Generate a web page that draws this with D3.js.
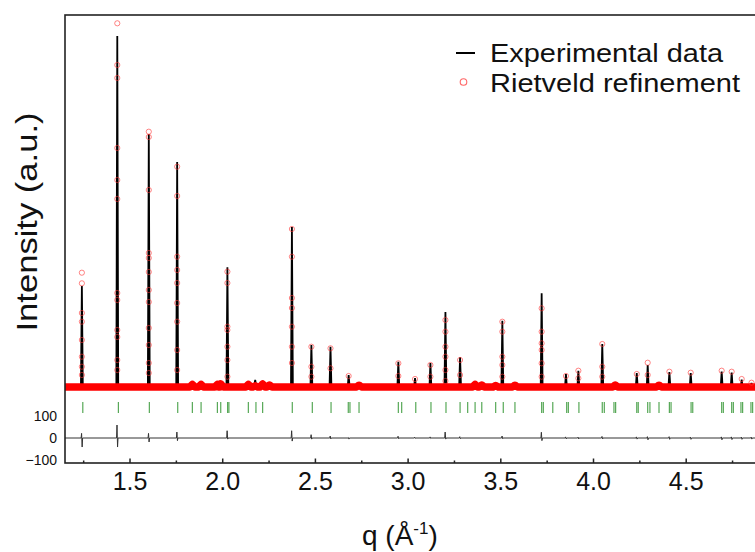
<!DOCTYPE html>
<html>
<head>
<meta charset="utf-8">
<script src="https://cdn.jsdelivr.net/npm/d3@7"></script>
<style>
  body { margin: 0; background: #fff; }
  svg { display: block; font-family: Arial, "Liberation Sans", sans-serif; }
</style>
</head>
<body>
<div id="chart"></div>
<script>

// reflections, q in 1/A, intensities in a.u.
var peakQ   = [1.243, 1.434, 1.604, 1.757, 2.028, 2.376, 2.481, 2.584, 2.682, 2.950,
               3.040, 3.123, 3.204, 3.283, 3.511, 3.723, 3.854, 3.921, 4.050, 4.236,
               4.295, 4.412, 4.527, 4.694, 4.748, 4.802, 4.855];
var obsTop  = [1190, 3690, 2710, 2430, 1377, 1780, 600, 583, 300, 433,
               270, 420, 930, 477, 843, 1117, 310, 343, 610, 320,
               400, 330, 320, 335, 325, 255, 220];
var calcTop = [1323, 3817, 2733, 2383, 1333, 1760, 583, 567, 290, 417,
               260, 400, 850, 450, 833, 967, 290, 343, 610, 310,
               423, 333, 323, 343, 333, 260, 223];
// calculated points on the flanks of each peak
var calcSide = [
  [1217, 920, 833, 650, 483, 383, 300],
  [3400, 3270, 2570, 2250, 2060, 1120, 1050, 750, 680, 450, 350],
  [2680, 2150, 1520, 1470, 1330, 1150, 1030, 770, 600, 420, 320],
  [2090, 1483, 1350, 1220, 1020, 833, 550, 350],
  [1220, 783, 750, 583, 450, 283],
  [1483, 1070, 970, 783, 583, 420],
  [383, 283], [367], [], [290],
  [], [283], [733, 583, 483, 350, 240], [300], [733, 483, 400, 283],
  [733, 617, 550, 417, 283], [], [267], [383, 283], [],
  [300], [], [], [], [], [], []
];
// difference curve (obs - calc)
var resUp   = [21, 59, 21, 27, 33, 33, 15, 9, 2, 8, 4, 5, 27, 6, 9, 26, 5, 4, 7, 5, 6, 6, 4, 5, 5, 4, 4];
var resDown = [41, 41, 18, 12, 5, 14, 5, 4, 5, 3, 2, 2, 5, 3, 3, 12, 4, 4, 4, 5, 8, 6, 6, 8, 7, 6, 5];

// weak humps in the background
var bumpQ    = [1.839, 1.886, 1.974, 1.992, 2.141, 2.178, 2.218, 2.255, 2.738, 3.364, 3.400, 3.475, 3.579, 4.120, 4.356];
var bumpObs  = [205, 205, 205, 212, 205, 252, 210, 200, 198, 205, 200, 195, 198, 200, 198];
var bumpCalc = [205, 205, 205, 212, 205, 192, 210, 200, 198, 205, 200, 195, 198, 200, 198];
var background = 180;

// Bragg positions
var braggQ = [1.248, 1.440, 1.607, 1.760, 1.839, 1.886, 1.974, 1.992, 2.029, 2.036,
              2.141, 2.182, 2.218, 2.378, 2.486, 2.587, 2.680, 2.689, 2.738,
              2.950, 2.968, 3.044, 3.126, 3.207, 3.283, 3.324, 3.364, 3.400, 3.475,
              3.516, 3.579, 3.723, 3.732, 3.783, 3.858, 3.867, 3.924, 4.050, 4.061,
              4.113, 4.122, 4.236, 4.244, 4.295, 4.307, 4.356, 4.412, 4.421, 4.529,
              4.538, 4.694, 4.703, 4.748, 4.757, 4.798, 4.807, 4.852, 4.861];

var xMajor = [1.5, 2.0, 2.5, 3.0, 3.5, 4.0, 4.5];
var xMinor = [1.25, 1.75, 2.25, 2.75, 3.25, 3.75, 4.25, 4.75];
var resTicks = [100, 0, -100];

var width = 755, height = 552;
var svg = d3.select("#chart").append("svg")
  .attr("width", width).attr("height", height);

var x = d3.scaleLinear().domain([1.152, 5.0]).range([65, 778.4]);
var y = d3.scaleLinear().domain([0, 3900]).range([405, 15]);
var yRes = d3.scaleLinear().domain([-100, 100]).range([460, 416]);

var line = d3.line().x(function (d) { return x(d[0]); }).y(function (d) { return y(d[1]); });
var resLine = d3.line().x(function (d) { return x(d[0]); }).y(function (d) { return yRes(d[1]); });

// observed profile: spikes on the background
var obs = [[1.152, background], [5.0, background]];
peakQ.forEach(function (q, i) {
  obs.push([q - 0.005, background], [q, obsTop[i]], [q + 0.005, background]);
});
bumpQ.forEach(function (q, i) {
  obs.push([q - 0.006, background], [q, bumpObs[i]], [q + 0.006, background]);
});
obs.sort(function (a, b) { return a[0] - b[0]; });

// calculated background band
var band = [[1.152, background], [5.0, background]];
bumpQ.forEach(function (q, i) {
  band.push([q - 0.014, background], [q, bumpCalc[i]], [q + 0.014, background]);
});
band.sort(function (a, b) { return a[0] - b[0]; });

var calcPts = [];
peakQ.forEach(function (q, i) {
  calcPts.push([q, calcTop[i]]);
  calcSide[i].forEach(function (v) { calcPts.push([q, v]); });
});

var res = [[1.152, 0], [5.0, 0]];
peakQ.forEach(function (q, i) {
  res.push([q - 0.004, 0], [q - 0.0015, resUp[i]], [q + 0.0015, -resDown[i]], [q + 0.004, 0]);
});
res.sort(function (a, b) { return a[0] - b[0]; });

svg.append("path").datum(obs)
  .attr("d", line)
  .attr("fill", "none").attr("stroke", "#000").attr("stroke-width", 1.8);

svg.append("path").datum(band)
  .attr("d", line)
  .attr("fill", "none").attr("stroke", "#ff0000").attr("stroke-width", 7.5)
  .attr("stroke-linejoin", "round");

svg.selectAll(".calc").data(calcPts).enter()
  .append("circle")
    .attr("class", "calc")
    .attr("cx", function (d) { return x(d[0]); })
    .attr("cy", function (d) { return y(d[1]); })
    .attr("r", 2.6)
    .attr("fill", "none").attr("stroke", "#ff3333")
    .attr("stroke-width", 1).attr("opacity", 0.6);

// Bragg ticks
svg.selectAll(".bragg").data(braggQ).enter()
  .append("line")
    .attr("class", "bragg")
    .attr("x1", function (d) { return x(d); }).attr("x2", function (d) { return x(d); })
    .attr("y1", 402).attr("y2", 413)
    .attr("stroke", "#3a9a3a").attr("stroke-width", 1.2).attr("opacity", 0.85);

svg.append("path").datum(res)
  .attr("d", resLine)
  .attr("fill", "none").attr("stroke", "#333").attr("stroke-width", 1);

// frame
svg.append("rect")
  .attr("x", 65).attr("y", 15).attr("width", 800).attr("height", 448)
  .attr("fill", "none").attr("stroke", "#222").attr("stroke-width", 1.6);

var xAxis = svg.append("g")
  .attr("transform", "translate(0,463)")
  .call(d3.axisBottom(x).tickValues(xMajor).tickSize(-4.5).tickPadding(9.5)
    .tickFormat(d3.format(".1f")));
xAxis.select(".domain").remove();
xAxis.selectAll("text").attr("font-size", 25).attr("font-family", "Arial, 'Liberation Sans', sans-serif").attr("fill", "#111");
xAxis.selectAll("line").attr("stroke", "#222").attr("stroke-width", 1.5);

var xMinorAxis = svg.append("g")
  .attr("transform", "translate(0,463)")
  .call(d3.axisBottom(x).tickValues(xMinor).tickSize(-2.5).tickFormat(""));
xMinorAxis.select(".domain").remove();
xMinorAxis.selectAll("line").attr("stroke", "#222").attr("stroke-width", 1.5);

var yAxis = svg.append("g")
  .attr("transform", "translate(65,0)")
  .call(d3.axisLeft(yRes).tickValues(resTicks).tickSize(0).tickPadding(8));
yAxis.select(".domain").remove();
yAxis.selectAll("text").attr("font-size", 14).attr("font-family", "Arial, 'Liberation Sans', sans-serif").attr("fill", "#111");

// axis titles
svg.append("text")
  .attr("transform", "translate(37,222) rotate(-90)")
  .attr("text-anchor", "middle")
  .attr("font-size", 30)
  .attr("textLength", 219).attr("lengthAdjust", "spacingAndGlyphs")
  .attr("fill", "#111")
  .text("Intensity (a.u.)");

var xt = svg.append("text")
  .attr("x", 362).attr("y", 545)
  .attr("font-size", 28).attr("fill", "#111");
xt.append("tspan").text("q (Å");
xt.append("tspan").attr("font-size", 17).attr("dy", -11).text("-1");
xt.append("tspan").attr("dy", 11).text(")");

// legend
var legend = svg.append("g");
legend.append("line")
  .attr("x1", 456).attr("x2", 475).attr("y1", 53).attr("y2", 53)
  .attr("stroke", "#000").attr("stroke-width", 2);
legend.append("circle")
  .attr("cx", 463.5).attr("cy", 82).attr("r", 3.3)
  .attr("fill", "none").attr("stroke", "#ff6666").attr("stroke-width", 1.1);
legend.append("text")
  .attr("x", 490).attr("y", 61.5).attr("font-size", 26)
  .attr("textLength", 233).attr("lengthAdjust", "spacingAndGlyphs")
  .attr("fill", "#111").text("Experimental data");
legend.append("text")
  .attr("x", 490).attr("y", 92).attr("font-size", 26)
  .attr("textLength", 250).attr("lengthAdjust", "spacingAndGlyphs")
  .attr("fill", "#111").text("Rietveld refinement");

</script>
</body>
</html>
